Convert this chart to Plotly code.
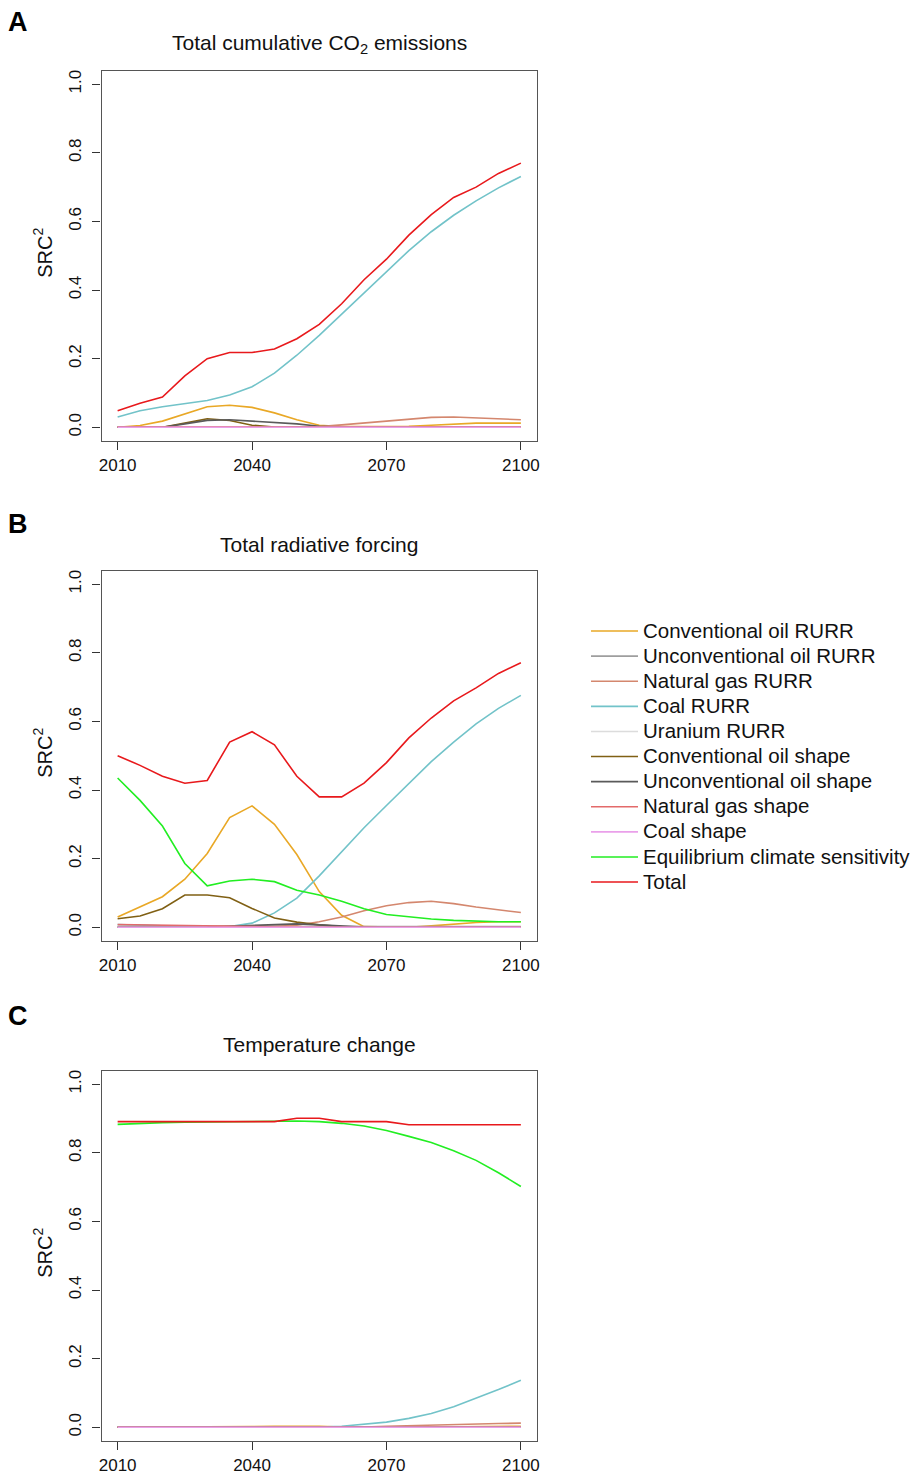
import plotly.graph_objects as go

# ---------------- data ----------------
years = [2010, 2015, 2020, 2025, 2030, 2035, 2040, 2045, 2050, 2055,
         2060, 2065, 2070, 2075, 2080, 2085, 2090, 2095, 2100]

series_names = ["Conventional oil RURR", "Unconventional oil RURR", "Natural gas RURR",
                "Coal RURR", "Uranium RURR", "Conventional oil shape",
                "Unconventional oil shape", "Natural gas shape", "Coal shape",
                "Equilibrium climate sensitivity", "Total"]

# Panel A: Total cumulative CO2 emissions
A_conv_oil_rurr = [0.000, 0.005, 0.018, 0.040, 0.060, 0.064, 0.058, 0.042, 0.022, 0.006,
                   0.002, 0.002, 0.002, 0.003, 0.006, 0.010, 0.012, 0.012, 0.012]
A_unconv_oil_rurr = [0.000, 0.000, 0.000, 0.000, 0.000, 0.000, 0.000, 0.000, 0.000, 0.000,
                     0.000, 0.000, 0.000, 0.000, 0.000, 0.000, 0.000, 0.000, 0.000]
A_gas_rurr = [0.000, 0.000, 0.000, 0.000, 0.000, 0.000, 0.000, 0.000, 0.000, 0.002,
              0.007, 0.013, 0.019, 0.025, 0.029, 0.030, 0.028, 0.025, 0.022]
A_coal_rurr = [0.030, 0.048, 0.060, 0.070, 0.078, 0.094, 0.118, 0.158, 0.210, 0.268,
               0.330, 0.392, 0.455, 0.515, 0.570, 0.618, 0.660, 0.698, 0.731]
A_uranium_rurr = [0.000, 0.000, 0.000, 0.000, 0.000, 0.000, 0.000, 0.000, 0.000, 0.000,
                  0.000, 0.000, 0.000, 0.000, 0.000, 0.000, 0.000, 0.000, 0.000]
A_conv_oil_shape = [0.000, 0.000, 0.000, 0.012, 0.025, 0.020, 0.006, 0.001, 0.000, 0.000,
                    0.000, 0.000, 0.000, 0.000, 0.000, 0.000, 0.000, 0.000, 0.000]
A_unconv_oil_shape = [0.000, 0.000, 0.000, 0.010, 0.020, 0.022, 0.018, 0.014, 0.010, 0.003,
                      0.000, 0.000, 0.000, 0.000, 0.000, 0.000, 0.000, 0.000, 0.000]
A_gas_shape = [0.001, 0.001, 0.001, 0.001, 0.001, 0.001, 0.001, 0.001, 0.001, 0.001,
               0.001, 0.001, 0.001, 0.001, 0.001, 0.001, 0.001, 0.001, 0.001]
A_coal_shape = [0.000, 0.000, 0.000, 0.000, 0.000, 0.000, 0.000, 0.000, 0.000, 0.000,
                0.000, 0.000, 0.000, 0.000, 0.000, 0.000, 0.000, 0.000, 0.000]
A_total = [0.048, 0.070, 0.088, 0.150, 0.200, 0.218, 0.218, 0.228, 0.258, 0.300,
           0.360, 0.430, 0.490, 0.560, 0.620, 0.670, 0.700, 0.740, 0.770]

# Panel B: Total radiative forcing
B_conv_oil_rurr = [0.030, 0.060, 0.089, 0.140, 0.215, 0.320, 0.354, 0.300, 0.212, 0.104,
                   0.035, 0.002, 0.000, 0.000, 0.004, 0.010, 0.014, 0.016, 0.016]
B_unconv_oil_rurr = [0.002, 0.002, 0.002, 0.002, 0.002, 0.002, 0.002, 0.002, 0.002, 0.002,
                     0.002, 0.002, 0.002, 0.002, 0.002, 0.002, 0.002, 0.002, 0.002]
B_gas_rurr = [0.002, 0.002, 0.002, 0.002, 0.002, 0.002, 0.002, 0.003, 0.006, 0.016,
              0.030, 0.048, 0.063, 0.072, 0.076, 0.069, 0.059, 0.050, 0.043]
B_coal_rurr = [0.008, 0.006, 0.004, 0.002, 0.001, 0.002, 0.012, 0.042, 0.085, 0.150,
               0.220, 0.290, 0.355, 0.420, 0.483, 0.540, 0.593, 0.638, 0.676]
B_uranium_rurr = [0.000, 0.000, 0.000, 0.000, 0.000, 0.000, 0.000, 0.000, 0.000, 0.000,
                  0.000, 0.000, 0.000, 0.000, 0.000, 0.000, 0.000, 0.000, 0.000]
B_conv_oil_shape = [0.025, 0.033, 0.054, 0.094, 0.094, 0.086, 0.055, 0.027, 0.015, 0.007,
                    0.002, 0.000, 0.000, 0.000, 0.000, 0.000, 0.000, 0.000, 0.000]
B_unconv_oil_shape = [0.000, 0.000, 0.000, 0.000, 0.001, 0.003, 0.006, 0.009, 0.010, 0.007,
                      0.003, 0.001, 0.000, 0.000, 0.000, 0.000, 0.000, 0.000, 0.000]
B_gas_shape = [0.008, 0.007, 0.006, 0.004, 0.002, 0.001, 0.000, 0.000, 0.000, 0.000,
               0.000, 0.000, 0.000, 0.000, 0.000, 0.000, 0.000, 0.000, 0.000]
B_coal_shape = [0.000, 0.000, 0.000, 0.000, 0.000, 0.000, 0.000, 0.000, 0.000, 0.000,
                0.000, 0.000, 0.000, 0.000, 0.000, 0.000, 0.000, 0.000, 0.000]
B_ecs = [0.435, 0.370, 0.295, 0.186, 0.121, 0.135, 0.140, 0.133, 0.108, 0.094,
         0.076, 0.054, 0.037, 0.030, 0.024, 0.020, 0.017, 0.016, 0.016]
B_total = [0.500, 0.472, 0.440, 0.420, 0.428, 0.540, 0.570, 0.532, 0.440, 0.380,
           0.380, 0.420, 0.480, 0.552, 0.610, 0.660, 0.698, 0.740, 0.771]

# Panel C: Temperature change
C_conv_oil_rurr = [0.000, 0.000, 0.000, 0.000, 0.000, 0.001, 0.002, 0.003, 0.004, 0.003,
                   0.001, 0.000, 0.000, 0.000, 0.001, 0.002, 0.003, 0.003, 0.003]
C_unconv_oil_rurr = [0.000, 0.000, 0.000, 0.000, 0.000, 0.000, 0.000, 0.000, 0.000, 0.000,
                     0.000, 0.000, 0.000, 0.000, 0.000, 0.000, 0.000, 0.000, 0.000]
C_gas_rurr = [0.000, 0.000, 0.000, 0.000, 0.000, 0.000, 0.000, 0.000, 0.000, 0.000,
              0.000, 0.001, 0.003, 0.005, 0.007, 0.009, 0.010, 0.011, 0.012]
C_coal_rurr = [0.000, 0.000, 0.000, 0.000, 0.000, 0.000, 0.000, 0.000, 0.000, 0.001,
               0.003, 0.008, 0.015, 0.026, 0.040, 0.060, 0.084, 0.110, 0.137]
C_uranium_rurr = [0.000, 0.000, 0.000, 0.000, 0.000, 0.000, 0.000, 0.000, 0.000, 0.000,
                  0.000, 0.000, 0.000, 0.000, 0.000, 0.000, 0.000, 0.000, 0.000]
C_conv_oil_shape = [0.000, 0.000, 0.000, 0.000, 0.000, 0.000, 0.000, 0.000, 0.000, 0.000,
                    0.000, 0.000, 0.000, 0.000, 0.000, 0.000, 0.000, 0.000, 0.000]
C_unconv_oil_shape = [0.000, 0.000, 0.000, 0.000, 0.000, 0.000, 0.000, 0.000, 0.000, 0.000,
                      0.000, 0.000, 0.000, 0.000, 0.000, 0.000, 0.000, 0.000, 0.000]
C_gas_shape = [0.000, 0.000, 0.000, 0.000, 0.000, 0.000, 0.000, 0.000, 0.000, 0.000,
               0.000, 0.000, 0.000, 0.000, 0.000, 0.000, 0.000, 0.000, 0.000]
C_coal_shape = [0.000, 0.000, 0.000, 0.000, 0.000, 0.000, 0.000, 0.000, 0.000, 0.000,
                0.000, 0.000, 0.000, 0.000, 0.000, 0.000, 0.000, 0.000, 0.000]
C_ecs = [0.883, 0.886, 0.888, 0.889, 0.890, 0.891, 0.892, 0.893, 0.893, 0.891,
         0.886, 0.878, 0.865, 0.848, 0.830, 0.806, 0.778, 0.742, 0.702]
C_total = [0.891, 0.891, 0.891, 0.891, 0.891, 0.891, 0.891, 0.891, 0.901, 0.901,
           0.891, 0.891, 0.891, 0.882, 0.882, 0.882, 0.882, 0.882, 0.882]

x_tick_vals = [2010, 2040, 2070, 2100]
y_tick_vals = [0.0, 0.2, 0.4, 0.6, 0.8, 1.0]
y_tick_text = ["0.0", "0.2", "0.4", "0.6", "0.8", "1.0"]

panel_titles = ["Total cumulative CO<sub>2</sub> emissions", "Total radiative forcing",
                "Temperature change"]
panel_letters = ["A", "B", "C"]

colors = ["#E9A826", "#9E9E9E", "#D4876E", "#72C3C9", "#DCDCDC", "#806014",
          "#5A5A5A", "#E36A6A", "#EAA0EA", "#22EE22", "#E8191C"]

panel_A = [A_conv_oil_rurr, A_unconv_oil_rurr, A_gas_rurr, A_coal_rurr, A_uranium_rurr,
           A_conv_oil_shape, A_unconv_oil_shape, A_gas_shape, A_coal_shape, None, A_total]
panel_B = [B_conv_oil_rurr, B_unconv_oil_rurr, B_gas_rurr, B_coal_rurr, B_uranium_rurr,
           B_conv_oil_shape, B_unconv_oil_shape, B_gas_shape, B_coal_shape, B_ecs, B_total]
panel_C = [C_conv_oil_rurr, C_unconv_oil_rurr, C_gas_rurr, C_coal_rurr, C_uranium_rurr,
           C_conv_oil_shape, C_unconv_oil_shape, C_gas_shape, C_coal_shape, C_ecs, C_total]
panels = [panel_A, panel_B, panel_C]

# ---------------- layout geometry ----------------
# Page body has an 8px margin, so the figure is 8px smaller and coordinates
# below are given in window pixels and converted with OFF.
OFF = 8
W, H = 918 - OFF, 1476 - OFF
box_left, box_right = 101.5, 537.0
box_tops = [70.5, 570.5, 1070.5]
box_bottoms = [441.0, 941.0, 1441.0]
letter_y = [22.0, 524.0, 1016.0]
FONT = "Liberation Sans, Arial, sans-serif"


def px(x):
    return (x - OFF) / W


def py(y):
    return 1 - (y - OFF) / H


fig = go.Figure()

for p, data in enumerate(panels):
    suffix = "" if p == 0 else str(p + 1)
    for i, vals in enumerate(data):
        if vals is None:
            continue
        label = '<span style="font-size:20.5px">' + series_names[i] + '</span>'
        fig.add_trace(go.Scatter(
            x=years, y=vals, mode="lines", name=label,
            line=dict(color=colors[i], width=1.6),
            xaxis="x" + suffix, yaxis="y" + suffix,
            showlegend=(p == 1), legendrank=i + 1,
        ))

layout_axes = {}
for p in range(3):
    suffix = "" if p == 0 else str(p + 1)
    layout_axes["xaxis" + suffix] = dict(
        domain=[px(box_left), px(box_right)], range=[2006.4, 2103.6],
        tickvals=x_tick_vals, ticks="outside", ticklen=8, tickwidth=1.2, tickcolor="#333",
        showline=True, mirror=True, linecolor="#555", linewidth=1.3,
        showgrid=False, zeroline=False, anchor="y" + suffix,
        tickfont=dict(size=17, color="#111", family=FONT),
    )
    layout_axes["yaxis" + suffix] = dict(
        domain=[py(box_bottoms[p]), py(box_tops[p])], range=[-0.04, 1.04],
        tickvals=y_tick_vals, ticktext=y_tick_text, tickangle=-90,
        ticks="outside", ticklen=8, tickwidth=1.2, tickcolor="#333",
        ticklabelstandoff=5,
        showline=True, mirror=True, linecolor="#555", linewidth=1.3,
        showgrid=False, zeroline=False, anchor="x" + suffix,
        tickfont=dict(size=17, color="#111", family=FONT),
    )

annotations = []
for p in range(3):
    cy = (box_tops[p] + box_bottoms[p]) / 2
    annotations.append(dict(
        text=panel_titles[p], x=px((box_left + box_right) / 2), y=py(box_tops[p] - 26.5),
        xref="paper", yref="paper", showarrow=False, xanchor="center", yanchor="middle",
        font=dict(size=21, color="#111", family=FONT)))
    annotations.append(dict(
        text="<b>" + panel_letters[p] + "</b>", x=px(18), y=py(letter_y[p]),
        xref="paper", yref="paper", showarrow=False, xanchor="center", yanchor="middle",
        font=dict(size=27, color="#000", family=FONT)))
    annotations.append(dict(
        text="SRC<sup>2</sup>", x=px(43), y=py(cy - 3), textangle=-90,
        xref="paper", yref="paper", showarrow=False, xanchor="center", yanchor="middle",
        font=dict(size=20, color="#111", family=FONT)))

fig.update_layout(
    width=W, height=H,
    margin=dict(l=0, r=0, t=0, b=0, autoexpand=False),
    paper_bgcolor="white", plot_bgcolor="white",
    font=dict(family=FONT, color="#111"),
    legend=dict(x=px(586), y=py(613.5), xanchor="left", yanchor="top",
                font=dict(size=17, color="#111", family=FONT),
                itemwidth=47, bgcolor="rgba(0,0,0,0)", borderwidth=0,
                traceorder="normal"),
    annotations=annotations,
    **layout_axes,
)

fig.write_html("out.html")
